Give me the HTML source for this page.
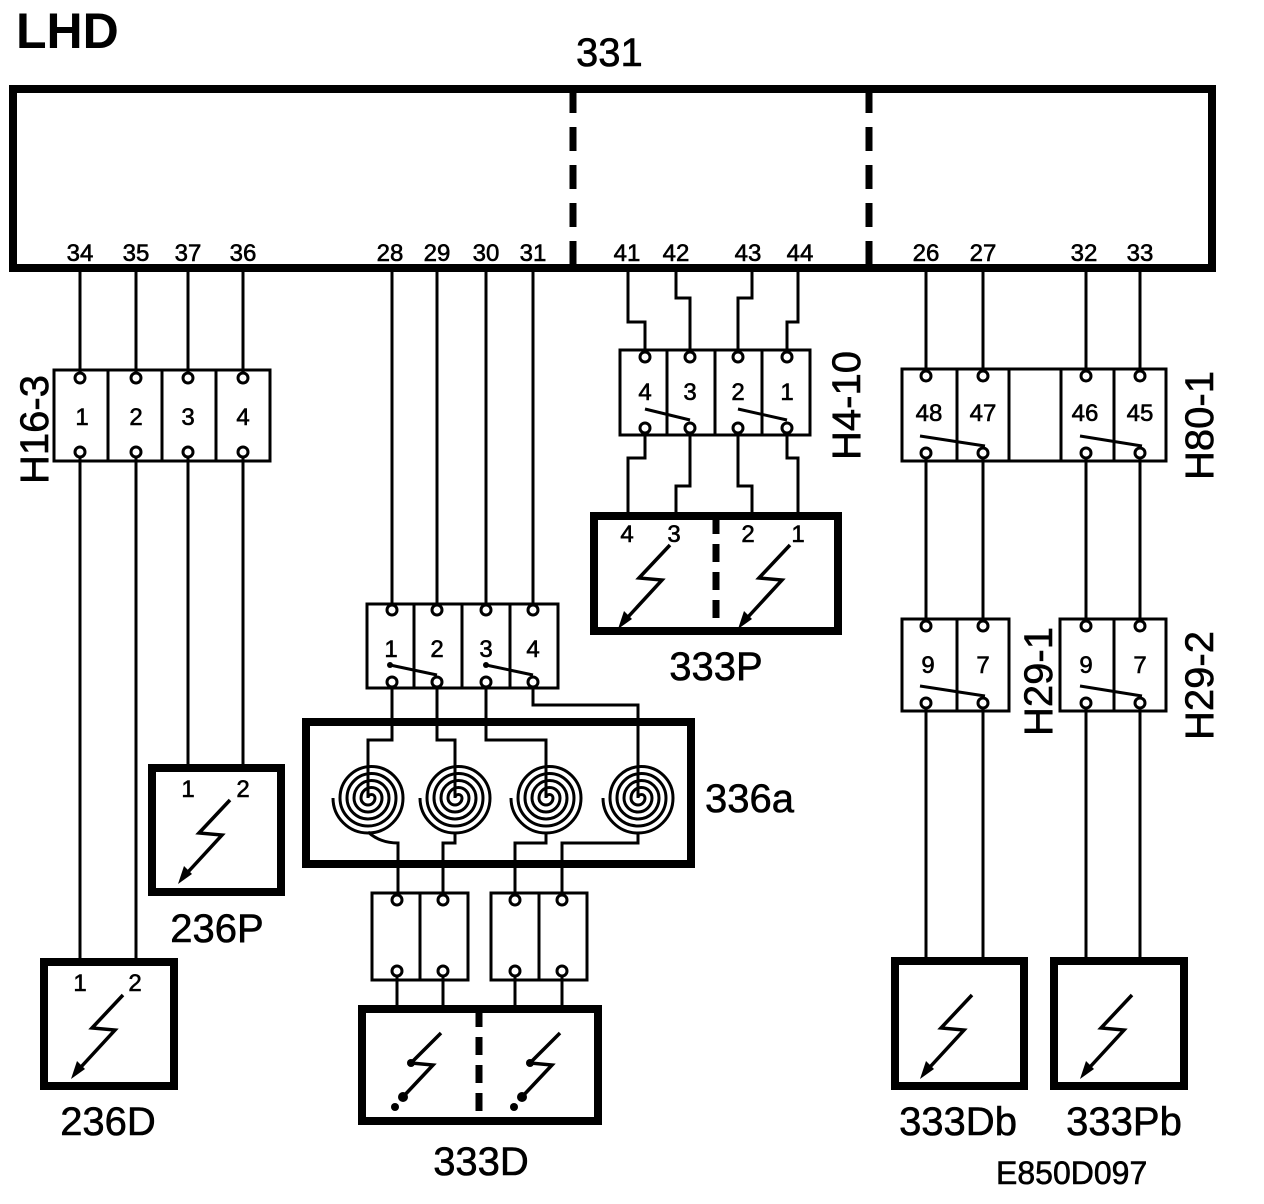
<!DOCTYPE html>
<html><head><meta charset="utf-8"><style>
html,body{margin:0;padding:0;background:#fff;}
svg{display:block;}
text{font-family:"Liberation Sans",Arial,sans-serif;fill:#000;}
.b{stroke:#000;stroke-width:0.6;}
</style></head><body>
<svg width="1264" height="1204" viewBox="0 0 1264 1204" xmlns="http://www.w3.org/2000/svg">
<defs>
<g id="bolt">
<path d="M0,0 L-31,33 L-8,35 L-42,72" fill="none" stroke="#000" stroke-width="3.5"/>
<polygon points="-52,84 -46,66 -38,74" fill="#000"/>
</g>
<g id="bolt2">
<path d="M0,0 L-30,30 L-8,32 L-40,66" fill="none" stroke="#000" stroke-width="3.5"/>
<circle cx="-30" cy="30" r="4" fill="#000"/>
<circle cx="-38" cy="64" r="5" fill="#000"/>
<circle cx="-46" cy="74" r="4" fill="#000"/>
</g>
<g id="spiral">
<path d="M0,0 a3.5,3.5 0 0 1 7,0 a7,7 0 0 1 -14,0 a10.5,10.5 0 0 1 21,0 a14,14 0 0 1 -28,0 a17.5,17.5 0 0 1 35,0 a21,21 0 0 1 -42,0 a24.5,24.5 0 0 1 49,0 a28,28 0 0 1 -56,0 a31.5,31.5 0 0 1 63,0 a35,35 0 0 1 -70,0" fill="none" stroke="#000" stroke-width="3"/>
</g>
</defs>

<text x="16" y="48" font-size="50" font-weight="bold">LHD</text>
<text x="576" y="66" font-size="40" class="b">331</text>

<rect x="13" y="89" width="1199" height="179" fill="none" stroke="#000" stroke-width="8"/>
<line x1="573" y1="89" x2="573" y2="268" stroke="#000" stroke-width="7" stroke-dasharray="24,14"/>
<line x1="869" y1="89" x2="869" y2="268" stroke="#000" stroke-width="7" stroke-dasharray="24,14"/>
<g font-size="24" text-anchor="middle" class="b" stroke-width="0.4">
<text x="80" y="261">34</text><text x="136" y="261">35</text><text x="188" y="261">37</text><text x="243" y="261">36</text>
<text x="390" y="261">28</text><text x="437" y="261">29</text><text x="486" y="261">30</text><text x="533" y="261">31</text>
<text x="627" y="261">41</text><text x="676" y="261">42</text><text x="748" y="261">43</text><text x="800" y="261">44</text>
<text x="926" y="261">26</text><text x="983" y="261">27</text><text x="1084" y="261">32</text><text x="1140" y="261">33</text>
</g>

<g stroke="#000" stroke-width="3" fill="none">
<path d="M80,270 V373 M80,457 V958 M136,270 V373 M136,457 V958 M188,270 V373 M188,457 V764 M243,270 V373 M243,457 V764"/>
<rect x="54" y="370" width="216" height="91"/>
<line x1="108" y1="370" x2="108" y2="461"/><line x1="162" y1="370" x2="162" y2="461"/><line x1="216" y1="370" x2="216" y2="461"/>

<path d="M392,270 V605 M437,270 V605 M486,270 V605 M533,270 V605"/>
<rect x="367" y="604" width="191" height="84"/>
<line x1="414" y1="604" x2="414" y2="688"/><line x1="462" y1="604" x2="462" y2="688"/><line x1="510" y1="604" x2="510" y2="688"/>
<line x1="390" y1="665" x2="437" y2="675"/><line x1="486" y1="665" x2="533" y2="675"/>
<path d="M392,687 V740 H368 V798"/>
<path d="M437,687 V740 H455 V798"/>
<path d="M486,687 V740 H546 V798"/>
<path d="M533,687 V705 H638 V798"/>
<path d="M368,832 Q380,843 398,843 V895"/>
<path d="M455,832 V843 H443 V895"/>
<path d="M546,832 V843 H515 V895"/>
<path d="M638,832 V843 H562 V895"/>
<rect x="372" y="893" width="96" height="87"/><line x1="420" y1="893" x2="420" y2="980"/>
<rect x="491" y="893" width="96" height="87"/><line x1="539" y1="893" x2="539" y2="980"/>
<line x1="397" y1="976" x2="397" y2="1006"/><line x1="443" y1="976" x2="443" y2="1006"/>
<line x1="515" y1="976" x2="515" y2="1006"/><line x1="562" y1="976" x2="562" y2="1006"/>

<path d="M628,270 V322 H645 V352"/>
<path d="M676,270 V298 H690 V352"/>
<path d="M752,270 V298 H738 V352"/>
<path d="M798,270 V322 H787 V352"/>
<rect x="620" y="350" width="190" height="85"/>
<line x1="667" y1="350" x2="667" y2="435"/><line x1="715" y1="350" x2="715" y2="435"/><line x1="762" y1="350" x2="762" y2="435"/>
<line x1="645" y1="409" x2="690" y2="420"/><line x1="738" y1="409" x2="787" y2="420"/>
<path d="M645,433 V458 H628 V512"/>
<path d="M690,433 V486 H676 V512"/>
<path d="M738,433 V486 H752 V512"/>
<path d="M787,433 V458 H798 V512"/>

<path d="M926,270 V371 M926,458 V621 M926,708 V958 M983,270 V371 M983,458 V621 M983,708 V958 M1086,270 V371 M1086,458 V621 M1086,708 V958 M1140,270 V371 M1140,458 V621 M1140,708 V958"/>
<rect x="902" y="369" width="264" height="92"/>
<line x1="957" y1="369" x2="957" y2="461"/><line x1="1009" y1="369" x2="1009" y2="461"/><line x1="1061" y1="369" x2="1061" y2="461"/><line x1="1114" y1="369" x2="1114" y2="461"/>
<line x1="920" y1="436" x2="985" y2="446"/><line x1="1080" y1="436" x2="1142" y2="446"/>
<rect x="902" y="619" width="107" height="92"/><line x1="957" y1="619" x2="957" y2="711"/>
<rect x="1060" y="619" width="106" height="92"/><line x1="1114" y1="619" x2="1114" y2="711"/>
<line x1="920" y1="686" x2="985" y2="696"/><line x1="1080" y1="686" x2="1142" y2="696"/>
</g>

<g fill="#fff" stroke="#000" stroke-width="3">
<circle cx="80" cy="378" r="5"/><circle cx="136" cy="378" r="5"/><circle cx="188" cy="378" r="5"/><circle cx="243" cy="378" r="5"/>
<circle cx="80" cy="452" r="5"/><circle cx="136" cy="452" r="5"/><circle cx="188" cy="452" r="5"/><circle cx="243" cy="452" r="5"/>
<circle cx="392" cy="610" r="5"/><circle cx="437" cy="610" r="5"/><circle cx="486" cy="610" r="5"/><circle cx="533" cy="610" r="5"/>
<circle cx="392" cy="682" r="5"/><circle cx="437" cy="682" r="5"/><circle cx="486" cy="682" r="5"/><circle cx="533" cy="682" r="5"/>
<circle cx="645" cy="357" r="5"/><circle cx="690" cy="357" r="5"/><circle cx="738" cy="357" r="5"/><circle cx="787" cy="357" r="5"/>
<circle cx="645" cy="428" r="5"/><circle cx="690" cy="428" r="5"/><circle cx="738" cy="428" r="5"/><circle cx="787" cy="428" r="5"/>
<circle cx="926" cy="376" r="5"/><circle cx="983" cy="376" r="5"/><circle cx="1086" cy="376" r="5"/><circle cx="1140" cy="376" r="5"/>
<circle cx="926" cy="453" r="5"/><circle cx="983" cy="453" r="5"/><circle cx="1086" cy="453" r="5"/><circle cx="1140" cy="453" r="5"/>
<circle cx="926" cy="626" r="5"/><circle cx="983" cy="626" r="5"/><circle cx="1086" cy="626" r="5"/><circle cx="1140" cy="626" r="5"/>
<circle cx="926" cy="703" r="5"/><circle cx="983" cy="703" r="5"/><circle cx="1086" cy="703" r="5"/><circle cx="1140" cy="703" r="5"/>
<circle cx="397" cy="900" r="5"/><circle cx="443" cy="900" r="5"/><circle cx="515" cy="900" r="5"/><circle cx="562" cy="900" r="5"/>
<circle cx="397" cy="971" r="5"/><circle cx="443" cy="971" r="5"/><circle cx="515" cy="971" r="5"/><circle cx="562" cy="971" r="5"/>
</g>
<g fill="#000"><circle cx="390" cy="665" r="3"/><circle cx="486" cy="665" r="3"/></g>

<use href="#spiral" transform="translate(368,798)"/>
<use href="#spiral" transform="translate(455,798)"/>
<use href="#spiral" transform="translate(546,798)"/>
<use href="#spiral" transform="translate(638,798)"/>

<g fill="none" stroke="#000" stroke-width="8">
<rect x="44" y="962" width="130" height="124"/>
<rect x="152" y="768" width="129" height="124"/>
<rect x="306" y="722" width="385" height="142"/>
<rect x="594" y="516" width="244" height="115"/>
<rect x="362" y="1009" width="236" height="112"/>
<rect x="895" y="961" width="129" height="125"/>
<rect x="1054" y="961" width="130" height="125"/>
</g>
<line x1="716" y1="516" x2="716" y2="631" stroke="#000" stroke-width="7" stroke-dasharray="18,10"/>
<line x1="479" y1="1009" x2="479" y2="1121" stroke="#000" stroke-width="7" stroke-dasharray="18,10"/>

<use href="#bolt" transform="translate(230,800)"/>
<use href="#bolt" transform="translate(123,995)"/>
<use href="#bolt" transform="translate(670,545)"/>
<use href="#bolt" transform="translate(790,545)"/>
<use href="#bolt" transform="translate(972,995)"/>
<use href="#bolt" transform="translate(1132,995)"/>
<use href="#bolt2" transform="translate(441,1033)"/>
<use href="#bolt2" transform="translate(560,1033)"/>

<g font-size="24" text-anchor="middle" class="b" stroke-width="0.4">
<text x="82" y="425">1</text><text x="136" y="425">2</text><text x="188" y="425">3</text><text x="243" y="425">4</text>
<text x="391" y="657">1</text><text x="437" y="657">2</text><text x="486" y="657">3</text><text x="533" y="657">4</text>
<text x="645" y="400">4</text><text x="690" y="400">3</text><text x="738" y="400">2</text><text x="787" y="400">1</text>
<text x="627" y="542">4</text><text x="674" y="542">3</text><text x="748" y="542">2</text><text x="798" y="542">1</text>
<text x="929" y="421">48</text><text x="983" y="421">47</text><text x="1085" y="421">46</text><text x="1140" y="421">45</text>
<text x="928" y="673">9</text><text x="983" y="673">7</text><text x="1086" y="673">9</text><text x="1140" y="673">7</text>
<text x="188" y="797">1</text><text x="243" y="797">2</text>
<text x="80" y="991">1</text><text x="135" y="991">2</text>
</g>

<g font-size="40" text-anchor="middle" class="b">
<text x="716" y="680">333P</text>
<text x="217" y="942">236P</text>
<text x="108" y="1135">236D</text>
<text x="481" y="1175">333D</text>
<text x="958" y="1135">333Db</text>
<text x="1124" y="1135">333Pb</text>
</g>
<text x="705" y="812" font-size="40" class="b">336a</text>
<text x="996" y="1184" font-size="32" class="b">E850D097</text>

<g font-size="40" class="b">
<text transform="translate(48,484) rotate(-90)">H16-3</text>
<text transform="translate(860,460) rotate(-90)">H4-10</text>
<text transform="translate(1213,480) rotate(-90)">H80-1</text>
<text transform="translate(1052,736) rotate(-90)">H29-1</text>
<text transform="translate(1213,740) rotate(-90)">H29-2</text>
</g>
</svg>
</body></html>
